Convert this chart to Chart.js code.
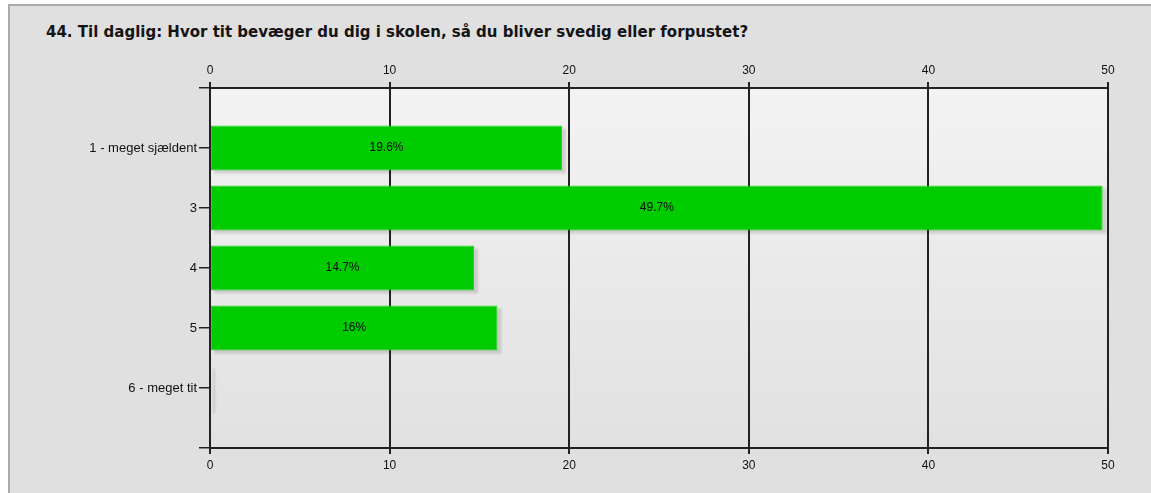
<!DOCTYPE html>
<html>
<head>
<meta charset="utf-8">
<script src="https://cdn.jsdelivr.net/npm/chart.js@4.4.1/dist/chart.umd.min.js"></script>
<style>
  html, body { margin: 0; padding: 0; background: #ffffff; width: 1151px; height: 493px; overflow: hidden; }
  .frame { position: absolute; left: 8px; top: 4px; width: 1160px; height: 500px; background: #e0e0e0;
           border-left: 2px solid #ababab; border-top: 2px solid #ababab; }
  .title { position: absolute; left: 46px; top: 23px; font: bold 15px "DejaVu Sans", Verdana, sans-serif; color: #141414; white-space: nowrap; }
  canvas { position: absolute; left: 0; top: 0; }
</style>
</head>
<body>
<div class="frame"></div>
<div class="title" id="title"></div>
<canvas id="c" width="1151" height="493"></canvas>
<script>
const titleText = "44. Til daglig: Hvor tit bevæger du dig i skolen, så du bliver svedig eller forpustet?";
const categories = ["1 - meget sjældent", "3", "4", "5", "6 - meget tit"];
const values = [19.6, 49.7, 14.7, 16, 0];
const valueLabels = ["19.6%", "49.7%", "14.7%", "16%", ""];
const xTicks = [0, 10, 20, 30, 40, 50];

document.getElementById('title').textContent = titleText;

// pad one empty slot above and below, as in the original layout
const labels = [""].concat(categories, [""]);
const data = [null].concat(values, [null]);
const dataText = [""].concat(valueLabels, [""]);

const plotBg = {
  id: 'plotBg',
  beforeDraw(chart) {
    const { ctx, chartArea: a } = chart;
    const g = ctx.createLinearGradient(0, a.top, 0, a.bottom);
    g.addColorStop(0, '#f3f3f3');
    g.addColorStop(1, '#e1e1e1');
    ctx.save();
    ctx.fillStyle = g;
    ctx.fillRect(a.left, a.top, a.right - a.left, a.bottom - a.top);
    ctx.restore();
  }
};

const barShadow = {
  id: 'barShadow',
  beforeDatasetsDraw(chart) {
    const { ctx } = chart;
    const meta = chart.getDatasetMeta(0);
    ctx.save();
    ctx.filter = 'blur(1.2px)';
    ctx.fillStyle = 'rgba(0,0,0,0.13)';
    meta.data.forEach((el, i) => {
      if (data[i] === null) return;
      const h = el.height;
      const x0 = el.base + 3;
      const x1 = Math.max(el.x + 4, x0 + 2);
      ctx.fillRect(x0, el.y - h / 2 + 3, x1 - x0, h);
    });
    ctx.restore();
  }
};

const barText = {
  id: 'barText',
  afterDatasetsDraw(chart) {
    const { ctx } = chart;
    const meta = chart.getDatasetMeta(0);
    ctx.save();
    ctx.font = '12px "Liberation Sans", Arial, sans-serif';
    ctx.fillStyle = '#0a0a0a';
    ctx.textAlign = 'center';
    ctx.textBaseline = 'middle';
    meta.data.forEach((el, i) => {
      if (!dataText[i]) return;
      ctx.fillText(dataText[i], (el.base + el.x) / 2, el.y);
    });
    ctx.restore();
  }
};

const tickFont = { family: '"Liberation Sans", Arial, sans-serif', size: 13 };

new Chart(document.getElementById('c'), {
  type: 'bar',
  data: {
    labels: labels,
    datasets: [{
      data: data,
      backgroundColor: '#00cc00',
      borderColor: '#22d622',
      borderWidth: (c) => (values[c.dataIndex - 1] > 0 ? 1 : 0),
      borderSkipped: false,
      categoryPercentage: 1,
      barPercentage: 0.75
    }]
  },
  options: {
    indexAxis: 'y',
    responsive: false,
    animation: false,
    devicePixelRatio: 1,
    layout: { padding: { left: 0, right: 43, top: 0, bottom: 0 } },
    plugins: { legend: { display: false }, tooltip: { enabled: false }, title: { display: false } },
    scales: {
      y: {
        type: 'category',
        offset: false,
        afterFit(s) { s.width = 210; },
        grid: { offset: false, drawOnChartArea: false, color: '#222', lineWidth: 1.5, tickLength: 11 },
        border: { display: true, color: '#222', width: 2 },
        ticks: { font: tickFont, color: '#111', padding: 2, autoSkip: false }
      },
      x: {
        type: 'linear',
        position: 'bottom',
        min: 0, max: 50,
        afterFit(s) { s.height = 45; },
        afterBuildTicks(s) { s.ticks = xTicks.map(v => ({ value: v })); },
        grid: { drawOnChartArea: true, color: '#222', lineWidth: 2, tickLength: 6 },
        border: { display: true, color: '#222', width: 2 },
        ticks: { font: { family: tickFont.family, size: 12 }, color: '#111', padding: 4 }
      },
      x2: {
        type: 'linear',
        position: 'top',
        min: 0, max: 50,
        afterFit(s) { s.height = 88; },
        afterBuildTicks(s) { s.ticks = xTicks.map(v => ({ value: v })); },
        grid: { drawOnChartArea: false, color: '#222', lineWidth: 2, tickLength: 6 },
        border: { display: true, color: '#222', width: 2 },
        ticks: { font: { family: tickFont.family, size: 12 }, color: '#111', padding: 4 }
      }
    }
  },
  plugins: [plotBg, barShadow, barText]
});
</script>
</body>
</html>
